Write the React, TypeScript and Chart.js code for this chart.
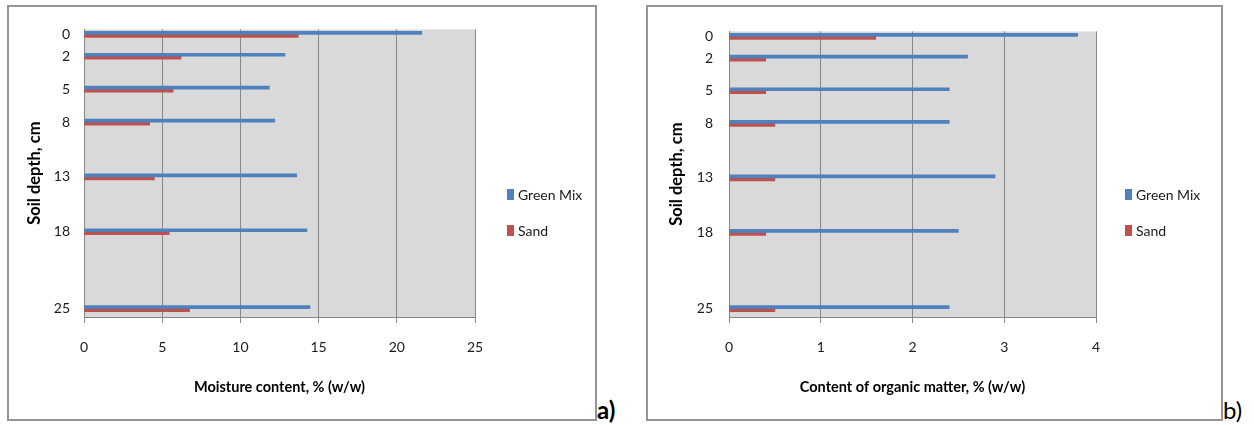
import React, { useEffect, useRef } from 'react';
import { Chart, registerables } from 'chart.js';

Chart.register(...registerables);

// ---- data ----
const depths = [0, 2, 5, 8, 13, 18, 25];
const depthTicks = [0, 2, 5, 8, 13, 18, 25];
const seriesNames = ['Green Mix', 'Sand'];
const seriesColors = ['#4f81bd', '#c0504d'];
const moistureGreenMix = [21.6, 12.85, 11.85, 12.2, 13.6, 14.25, 14.45];
const moistureSand = [13.7, 6.2, 5.7, 4.2, 4.5, 5.45, 6.75];
const organicGreenMix = [3.8, 2.6, 2.4, 2.4, 2.9, 2.5, 2.4];
const organicSand = [1.6, 0.4, 0.4, 0.5, 0.5, 0.4, 0.5];
const moistureTicks = [0, 5, 10, 15, 20, 25];
const organicTicks = [0, 1, 2, 3, 4];
const yTitle = 'Soil depth, cm';
const moistureTitle = 'Moisture content, % (w/w)';
const organicTitle = 'Content of organic matter, % (w/w)';

const FONT = "Lato, 'Open Sans', 'DejaVu Sans', sans-serif";

const plotBg = {
  id: 'plotBg',
  beforeDraw(chart: any) {
    const { ctx, chartArea: a } = chart;
    ctx.save();
    ctx.fillStyle = '#d9d9d9';
    ctx.fillRect(a.left, a.top, a.right - a.left, a.bottom - a.top);
    ctx.restore();
  },
};

type PanelProps = {
  left: number;
  top: number;
  width: number;
  height: number;
  yAxisWidth: number;
  padRight: number;
  padTop: number;
  xAxisHeight: number;
  yTickPad: number;
  yTitlePad: number;
  xTicks: number[];
  xTitle: string;
  gm: number[];
  sand: number[];
};

function Panel(p: PanelProps) {
  const ref = useRef<HTMLCanvasElement | null>(null);
  useEffect(() => {
    if (!ref.current) return;
    const grid = '#878787';
    const chart = new Chart(ref.current, {
      type: 'bar',
      data: {
        datasets: [
          {
            label: seriesNames[0],
            data: depths.map((d, i) => ({ x: p.gm[i], y: d })),
            backgroundColor: seriesColors[0],
            barThickness: 3,
          },
          {
            label: seriesNames[1],
            data: depths.map((d, i) => ({ x: p.sand[i], y: d })),
            backgroundColor: seriesColors[1],
            barThickness: 3,
          },
        ],
      },
      options: {
        indexAxis: 'y',
        responsive: false,
        animation: false,
        layout: { padding: { left: 0, top: p.padTop, right: p.padRight, bottom: 0 } },
        plugins: { legend: { display: false }, tooltip: { enabled: false } },
        scales: {
          y: {
            type: 'linear',
            reverse: true,
            offset: false,
            min: -0.45,
            max: 25.77,
            afterBuildTicks: (s: any) => {
              s.ticks = depthTicks.map((v) => ({ value: v }));
            },
            afterFit: (s: any) => {
              s.width = p.yAxisWidth;
            },
            grid: { display: false, drawTicks: false, offset: false },
            border: { display: true, color: grid, width: 1 },
            ticks: {
              padding: p.yTickPad,
              color: '#1a1a1a',
              font: { family: FONT, size: 14 },
              callback: (v: any) => String(v),
            },
            title: {
              display: true,
              text: yTitle,
              color: '#000',
              font: { family: FONT, size: 16.5, weight: 'bold' },
              padding: { top: p.yTitlePad, bottom: 0 },
            },
          },
          x: {
            type: 'linear',
            min: p.xTicks[0],
            max: p.xTicks[p.xTicks.length - 1],
            afterBuildTicks: (s: any) => {
              s.ticks = p.xTicks.map((v) => ({ value: v }));
            },
            afterFit: (s: any) => {
              s.height = p.xAxisHeight;
            },
            grid: { display: true, color: grid, lineWidth: 1, drawTicks: true, tickLength: 6, tickColor: grid },
            border: { display: true, color: grid, width: 1 },
            ticks: {
              padding: 16,
              color: '#1a1a1a',
              font: { family: FONT, size: 14 },
              maxRotation: 0,
              callback: (v: any) => String(v),
            },
            title: {
              display: true,
              text: p.xTitle,
              color: '#000',
              font: { family: FONT, size: 14.5, weight: 'bold' },
              padding: { top: 0, bottom: 23 },
            },
          },
        },
      },
      plugins: [plotBg],
    } as any);
    return () => chart.destroy();
  }, []);
  return (
    <canvas
      ref={ref}
      width={p.width}
      height={p.height}
      style={{ position: 'absolute', left: p.left, top: p.top, width: p.width, height: p.height }}
    />
  );
}

function Legend({ left, top }: { left: number; top: number }) {
  return (
    <>
      {seriesNames.map((n, i) => (
        <div
          key={n}
          style={{
            position: 'absolute',
            left,
            top: top + i * 36,
            height: 14,
            display: 'flex',
            alignItems: 'center',
            fontFamily: FONT,
            fontSize: 14,
            color: '#1a1a1a',
            whiteSpace: 'nowrap',
          }}
        >
          <span style={{ display: 'inline-block', width: 7, height: 11, background: seriesColors[i], marginRight: 4 }} />
          <span>{n}</span>
        </div>
      ))}
    </>
  );
}

export default function App() {
  const frame = (l: number, t: number, w: number, h: number) => (
    <div
      style={{
        position: 'absolute',
        left: l,
        top: t,
        width: w,
        height: h,
        boxSizing: 'border-box',
        border: '2px solid #959595',
      }}
    />
  );
  return (
    <div style={{ position: 'absolute', left: 0, top: 0, width: 1254, height: 425, background: '#fff', overflow: 'hidden' }}>
      {frame(7, 5, 590, 416)}
      {frame(646, 5, 577, 416)}
      <Panel
        left={9}
        top={7}
        width={586}
        height={412}
        yAxisWidth={75}
        padRight={120}
        padTop={19}
        xAxisHeight={102}
        yTickPad={14}
        yTitlePad={16}
        xTicks={moistureTicks}
        xTitle={moistureTitle}
        gm={moistureGreenMix}
        sand={moistureSand}
      />
      <Panel
        left={648}
        top={7}
        width={573}
        height={412}
        yAxisWidth={81}
        padRight={125}
        padTop={19}
        xAxisHeight={102}
        yTickPad={16}
        yTitlePad={19}
        xTicks={organicTicks}
        xTitle={organicTitle}
        gm={organicGreenMix}
        sand={organicSand}
      />
      <Legend left={507} top={187} />
      <Legend left={1125} top={187} />
      <div style={{ position: 'absolute', left: 597, top: 396, fontFamily: FONT, fontWeight: 'bold', fontSize: 24, lineHeight: '28px' }}>a)</div>
      <div style={{ position: 'absolute', left: 1223, top: 396, fontFamily: FONT, fontSize: 24, lineHeight: '28px' }}>b)</div>
    </div>
  );
}
